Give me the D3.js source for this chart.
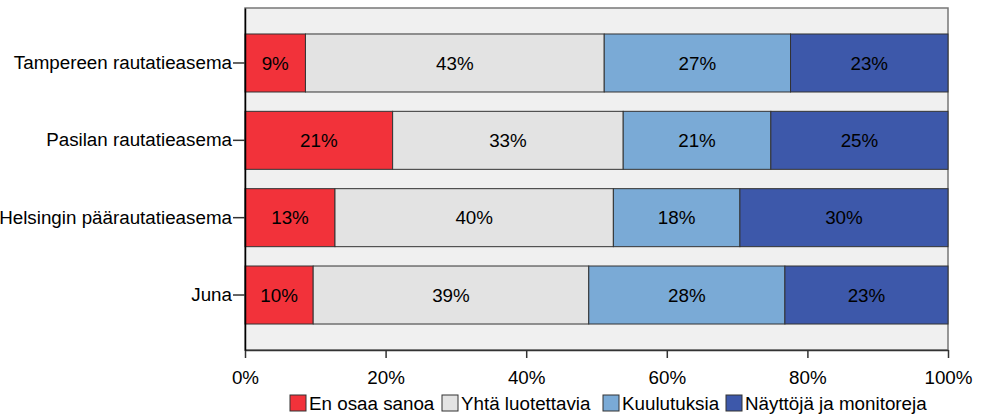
<!DOCTYPE html>
<html>
<head>
<meta charset="utf-8">
<script src="https://cdn.jsdelivr.net/npm/d3@7"></script>
<style>
  body { margin: 0; background: #fff; }
  text { font-family: "Liberation Sans", Arial, sans-serif; }
</style>
</head>
<body>
<div id="d3-container"></div>
<script>
// categories top to bottom
const places = ["Tampereen rautatieasema", "Pasilan rautatieasema", "Helsingin päärautatieasema", "Juna"]
const answers = ["En osaa sanoa", "Yhtä luotettavia", "Kuulutuksia", "Näyttöjä ja monitoreja"]

// percent per answer, same order as places
const enOsaa = [8.6, 21.0, 12.8, 9.7]
const yhta = [42.5, 32.8, 39.6, 39.2]
const kuulutuksia = [26.5, 21.0, 18.0, 27.9]
const naytot = [22.5, 25.2, 29.6, 23.2]

const xTicks = [0, 20, 40, 60, 80, 100]
const colors = ["#f2323a", "#e3e3e3", "#7aaad6", "#3d58aa"]

const series = [enOsaa, yhta, kuulutuksia, naytot]
const rows = places.map((p, i) => {
    const r = { place: p }
    answers.forEach((a, j) => r[a] = series[j][i])
    return r
})

const width = 988, height = 420
const margin = { top: 8, right: 40, bottom: 70, left: 245 }
const plotW = width - margin.left - margin.right
const plotH = height - margin.top - margin.bottom
const fs = 18.8

const svg = d3.select("#d3-container")
    .append("svg")
    .attr("width", width)
    .attr("height", height)

const g = svg.append("g")
    .attr("transform", "translate(" + margin.left + "," + margin.top + ")")

const total = d3.max(rows, r => d3.sum(answers, a => r[a]))
const xScale = d3.scaleLinear().domain([0, 100]).range([0, plotW])
const yScale = d3.scaleBand()
    .domain(places)
    .range([0, plotH])
    .paddingInner(0.25)
    .paddingOuter(0.336)

const color = d3.scaleOrdinal().domain(answers).range(colors)

// plot background
g.append("rect")
    .attr("width", plotW)
    .attr("height", plotH)
    .attr("fill", "#f0f0f0")
    .attr("stroke", "#777")
    .attr("stroke-width", 1.5)

const stacked = d3.stack().keys(answers)(rows)

const layer = g.selectAll(".layer")
    .data(stacked)
    .enter()
    .append("g")
    .attr("class", "layer")
    .attr("fill", d => color(d.key))

layer.selectAll("rect")
    .data(d => d)
    .enter()
    .append("rect")
    .attr("x", d => xScale(d[0]))
    .attr("y", d => yScale(d.data.place))
    .attr("width", d => xScale(Math.min(d[1], 100)) - xScale(d[0]))
    .attr("height", yScale.bandwidth())
    .attr("stroke", "#333")
    .attr("stroke-width", 1)

layer.selectAll("text")
    .data(d => d.map(v => Object.assign({ key: d.key }, v)))
    .enter()
    .append("text")
    .attr("x", d => (xScale(d[0]) + xScale(Math.min(d[1], 100))) / 2)
    .attr("y", d => yScale(d.data.place) + yScale.bandwidth() / 2)
    .attr("dy", "0.36em")
    .attr("text-anchor", "middle")
    .attr("font-size", fs)
    .attr("fill", "#000")
    .text(d => Math.round(d.data[d.key]) + "%")

// axes
const xAxis = d3.axisBottom(xScale)
    .tickValues(xTicks)
    .tickFormat(d => d + "%")
    .tickSize(8)
    .tickSizeOuter(0)
const yAxis = d3.axisLeft(yScale).tickSize(12).tickSizeOuter(0)

const xg = g.append("g")
    .attr("class", "axis x-axis")
    .attr("transform", "translate(0," + plotH + ")")
    .call(xAxis)
xg.selectAll("text").attr("font-size", fs).attr("fill", "#000").attr("dy", "1.2em")
xg.selectAll("line, path").attr("stroke", "#333").attr("stroke-width", 1.5)

const yg = g.append("g")
    .attr("class", "axis y-axis")
    .call(yAxis)
yg.selectAll("text").attr("font-size", fs).attr("fill", "#000").attr("x", -13)
yg.selectAll("line").attr("stroke", "#333").attr("stroke-width", 1.5)
yg.select("path").attr("stroke", "#000").attr("stroke-width", 1.5)

// legend
const legendX = [290, 442, 603, 726]
const legend = svg.append("g").attr("class", "legend")
const item = legend.selectAll("g")
    .data(answers)
    .enter()
    .append("g")
    .attr("transform", (d, i) => "translate(" + legendX[i] + ",395)")
item.append("rect")
    .attr("width", 16)
    .attr("height", 16)
    .attr("fill", d => color(d))
    .attr("stroke", "#333")
    .attr("stroke-width", 1)
item.append("text")
    .attr("x", 19)
    .attr("y", 8)
    .attr("dy", "0.36em")
    .attr("font-size", fs)
    .attr("fill", "#000")
    .text(d => d)
</script>
</body>
</html>
